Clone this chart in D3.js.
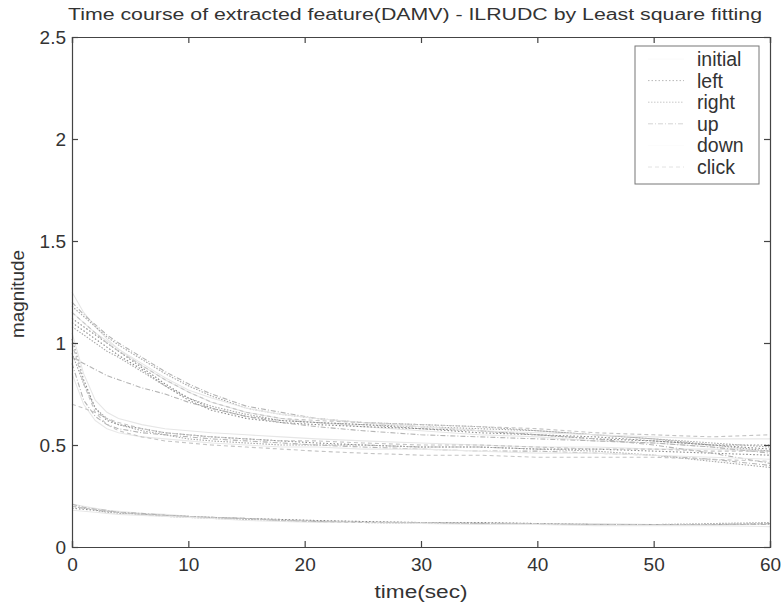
<!DOCTYPE html>
<html>
<head>
<meta charset="utf-8">
<script src="https://cdn.jsdelivr.net/npm/d3@7"></script>
<style>
  body { margin: 0; background: #fff; }
  text { font-family: "Liberation Sans", Arial, sans-serif; fill: #333; }
</style>
</head>
<body>
<div class="chart"></div>
<script>
// DATA ------------------------------------
const times = [0, 1, 2, 3, 4, 6, 8, 10, 12, 15, 18, 21, 25, 30, 35, 40, 45, 50, 55, 60];
const classNames = ["initial", "left", "right", "up", "down", "click"];
const xTicks = [0, 10, 20, 30, 40, 50, 60];
const yTicks = [0, 0.5, 1, 1.5, 2, 2.5];

// each class: several trials, values at the times above
const initial = [
  [1.25,1.15,1.08,1.02,0.97,0.89,0.82,0.76,0.71,0.66,0.63,0.61,0.59,0.57,0.55,0.54,0.52,0.51,0.49,0.47],
  [1.05,0.85,0.72,0.66,0.63,0.60,0.58,0.57,0.56,0.55,0.54,0.53,0.52,0.51,0.50,0.49,0.49,0.48,0.48,0.47],
  [0.21,0.20,0.19,0.18,0.175,0.165,0.16,0.15,0.145,0.14,0.135,0.13,0.125,0.12,0.12,0.115,0.115,0.11,0.11,0.11]
];
const left = [
  [1.12,1.08,1.04,1.00,0.96,0.88,0.80,0.73,0.68,0.64,0.62,0.61,0.60,0.58,0.57,0.55,0.53,0.52,0.50,0.50],
  [1.10,1.06,1.02,0.98,0.94,0.87,0.79,0.72,0.67,0.63,0.61,0.60,0.59,0.58,0.56,0.55,0.54,0.52,0.50,0.48],
  [1.02,0.82,0.68,0.62,0.60,0.58,0.56,0.55,0.54,0.53,0.52,0.51,0.50,0.49,0.49,0.48,0.48,0.47,0.46,0.45],
  [0.19,0.185,0.18,0.175,0.17,0.16,0.155,0.15,0.145,0.14,0.135,0.13,0.125,0.12,0.12,0.115,0.11,0.11,0.11,0.115]
];
const right = [
  [1.18,1.13,1.08,1.03,0.99,0.92,0.85,0.79,0.74,0.68,0.65,0.63,0.61,0.60,0.59,0.57,0.55,0.53,0.50,0.47],
  [0.95,0.80,0.68,0.63,0.60,0.57,0.55,0.53,0.52,0.51,0.50,0.50,0.50,0.49,0.49,0.48,0.47,0.45,0.42,0.39],
  [1.08,1.04,1.00,0.96,0.93,0.86,0.79,0.73,0.69,0.65,0.62,0.61,0.60,0.59,0.58,0.57,0.55,0.53,0.51,0.49],
  [0.20,0.19,0.18,0.17,0.165,0.16,0.15,0.145,0.14,0.135,0.13,0.125,0.12,0.115,0.115,0.11,0.11,0.11,0.115,0.12]
];
const up = [
  [0.93,0.90,0.87,0.84,0.82,0.78,0.75,0.71,0.68,0.64,0.61,0.59,0.57,0.55,0.54,0.53,0.52,0.51,0.49,0.46],
  [1.20,1.14,1.09,1.04,1.00,0.93,0.86,0.80,0.75,0.69,0.66,0.63,0.61,0.59,0.57,0.55,0.53,0.50,0.46,0.41],
  [0.90,0.72,0.64,0.60,0.58,0.56,0.55,0.54,0.53,0.52,0.51,0.50,0.49,0.48,0.47,0.47,0.46,0.45,0.43,0.40],
  [0.21,0.195,0.185,0.18,0.17,0.165,0.155,0.15,0.145,0.14,0.13,0.125,0.12,0.12,0.115,0.11,0.11,0.11,0.11,0.11]
];
const down = [
  [1.15,1.10,1.05,1.01,0.97,0.90,0.83,0.77,0.73,0.68,0.65,0.63,0.61,0.59,0.57,0.56,0.55,0.54,0.53,0.53],
  [0.85,0.70,0.62,0.58,0.56,0.54,0.53,0.52,0.51,0.50,0.49,0.49,0.48,0.48,0.47,0.46,0.46,0.45,0.44,0.43],
  [0.18,0.175,0.17,0.165,0.16,0.155,0.15,0.145,0.14,0.13,0.125,0.12,0.12,0.115,0.11,0.11,0.105,0.105,0.105,0.10]
];
const click = [
  [1.00,0.80,0.66,0.60,0.57,0.54,0.52,0.51,0.50,0.49,0.48,0.47,0.46,0.45,0.45,0.44,0.44,0.44,0.43,0.42],
  [1.15,1.10,1.05,1.00,0.96,0.89,0.82,0.76,0.71,0.66,0.63,0.62,0.61,0.60,0.59,0.58,0.56,0.55,0.54,0.55],
  [0.70,0.68,0.66,0.63,0.61,0.58,0.56,0.55,0.54,0.53,0.52,0.52,0.51,0.50,0.50,0.49,0.48,0.48,0.47,0.47],
  [0.20,0.19,0.185,0.175,0.17,0.16,0.155,0.15,0.145,0.14,0.13,0.125,0.12,0.12,0.115,0.115,0.11,0.11,0.11,0.115]
];

const trials = [initial, left, right, up, down, click];

// line looks per class (scanned greyscale)
const styles = [
  {color: "#e6e6e6", dash: null, legend: "#fafafa"},
  {color: "#8a8a8a", dash: "1.5,2", legend: "#b8b8b8"},
  {color: "#a8a8a8", dash: "1.5,1.5", legend: "#c8c8c8"},
  {color: "#b4b4b4", dash: "5,2,1,2", legend: "#d4d4d4"},
  {color: "#e8e8e8", dash: null, legend: "#fcfcfc"},
  {color: "#c4c4c4", dash: "4,3", legend: "#e2e2e2"}
];

// CHART INIT ------------------------------
var margin = {top: 37, right: 12, bottom: 60, left: 72};
var width = 782 - margin.left - margin.right,
    height = 607 - margin.top - margin.bottom;

const root = d3.select(".chart").append("svg")
    .attr("width", 782)
    .attr("height", 607);

const svg = root.append("g")
    .attr("transform", "translate(" + margin.left + "," + margin.top + ")");

const xScale = d3.scaleLinear().domain([0, 60]).range([0, width]);
const yScale = d3.scaleLinear().domain([0, 2.5]).range([height, 0]);

// lines
const line = d3.line()
    .x((d, i) => xScale(times[i]))
    .y(d => yScale(d));

trials.forEach((set, k) => {
    svg.append("g").selectAll("path")
        .data(set)
        .enter()
        .append("path")
        .attr("d", line)
        .attr("fill", "none")
        .attr("stroke", styles[k].color)
        .attr("stroke-width", 1.1)
        .attr("stroke-dasharray", styles[k].dash);
});

// axes (inward ticks on all sides, matlab style)
const axisColor = "#444";
svg.append("g")
    .attr("transform", "translate(0," + height + ")")
    .call(d3.axisBottom(xScale).tickValues(xTicks).tickSize(-6).tickPadding(11).tickFormat(d3.format("d")));
svg.append("g")
    .call(d3.axisTop(xScale).tickValues(xTicks).tickSize(-6).tickFormat(""));
svg.append("g")
    .call(d3.axisLeft(yScale).tickValues(yTicks).tickSize(-6).tickPadding(6).tickFormat(d => d));
svg.append("g")
    .attr("transform", "translate(" + width + ",0)")
    .call(d3.axisRight(yScale).tickValues(yTicks).tickSize(-6).tickFormat(""));

svg.selectAll(".domain, .tick line").attr("stroke", axisColor).attr("stroke-width", 1.2);
svg.selectAll(".tick text")
    .attr("fill", "#333")
    .style("font-size", "19px")
    .style("font-family", "'Liberation Sans', Arial, sans-serif");

// titles
root.append("text")
    .attr("x", 415)
    .attr("y", 20)
    .attr("text-anchor", "middle")
    .attr("textLength", 694)
    .attr("lengthAdjust", "spacingAndGlyphs")
    .style("font-size", "16px")
    .text("Time course of extracted feature(DAMV) - ILRUDC by Least square fitting");

root.append("text")
    .attr("x", 421)
    .attr("y", 598)
    .attr("text-anchor", "middle")
    .attr("textLength", 93)
    .attr("lengthAdjust", "spacingAndGlyphs")
    .style("font-size", "18px")
    .text("time(sec)");

root.append("text")
    .attr("transform", "translate(24,294) rotate(-90)")
    .attr("text-anchor", "middle")
    .attr("textLength", 88)
    .attr("lengthAdjust", "spacingAndGlyphs")
    .style("font-size", "18px")
    .text("magnitude");

// legend
const legend = root.append("g").attr("transform", "translate(635,46)");
legend.append("rect")
    .attr("width", 124)
    .attr("height", 138)
    .attr("fill", "#fff")
    .attr("stroke", "#777")
    .attr("stroke-width", 1);

const rows = legend.selectAll(".row")
    .data(classNames)
    .enter()
    .append("g")
    .attr("transform", (d, i) => "translate(0," + (13 + i * 21.6) + ")");
rows.append("line")
    .attr("x1", 13).attr("x2", 49)
    .attr("stroke", (d, i) => styles[i].legend)
    .attr("stroke-dasharray", (d, i) => styles[i].dash);
rows.append("text")
    .attr("x", 62)
    .attr("y", 7)
    .style("font-size", "19.5px")
    .text(d => d);
</script>
</body>
</html>
